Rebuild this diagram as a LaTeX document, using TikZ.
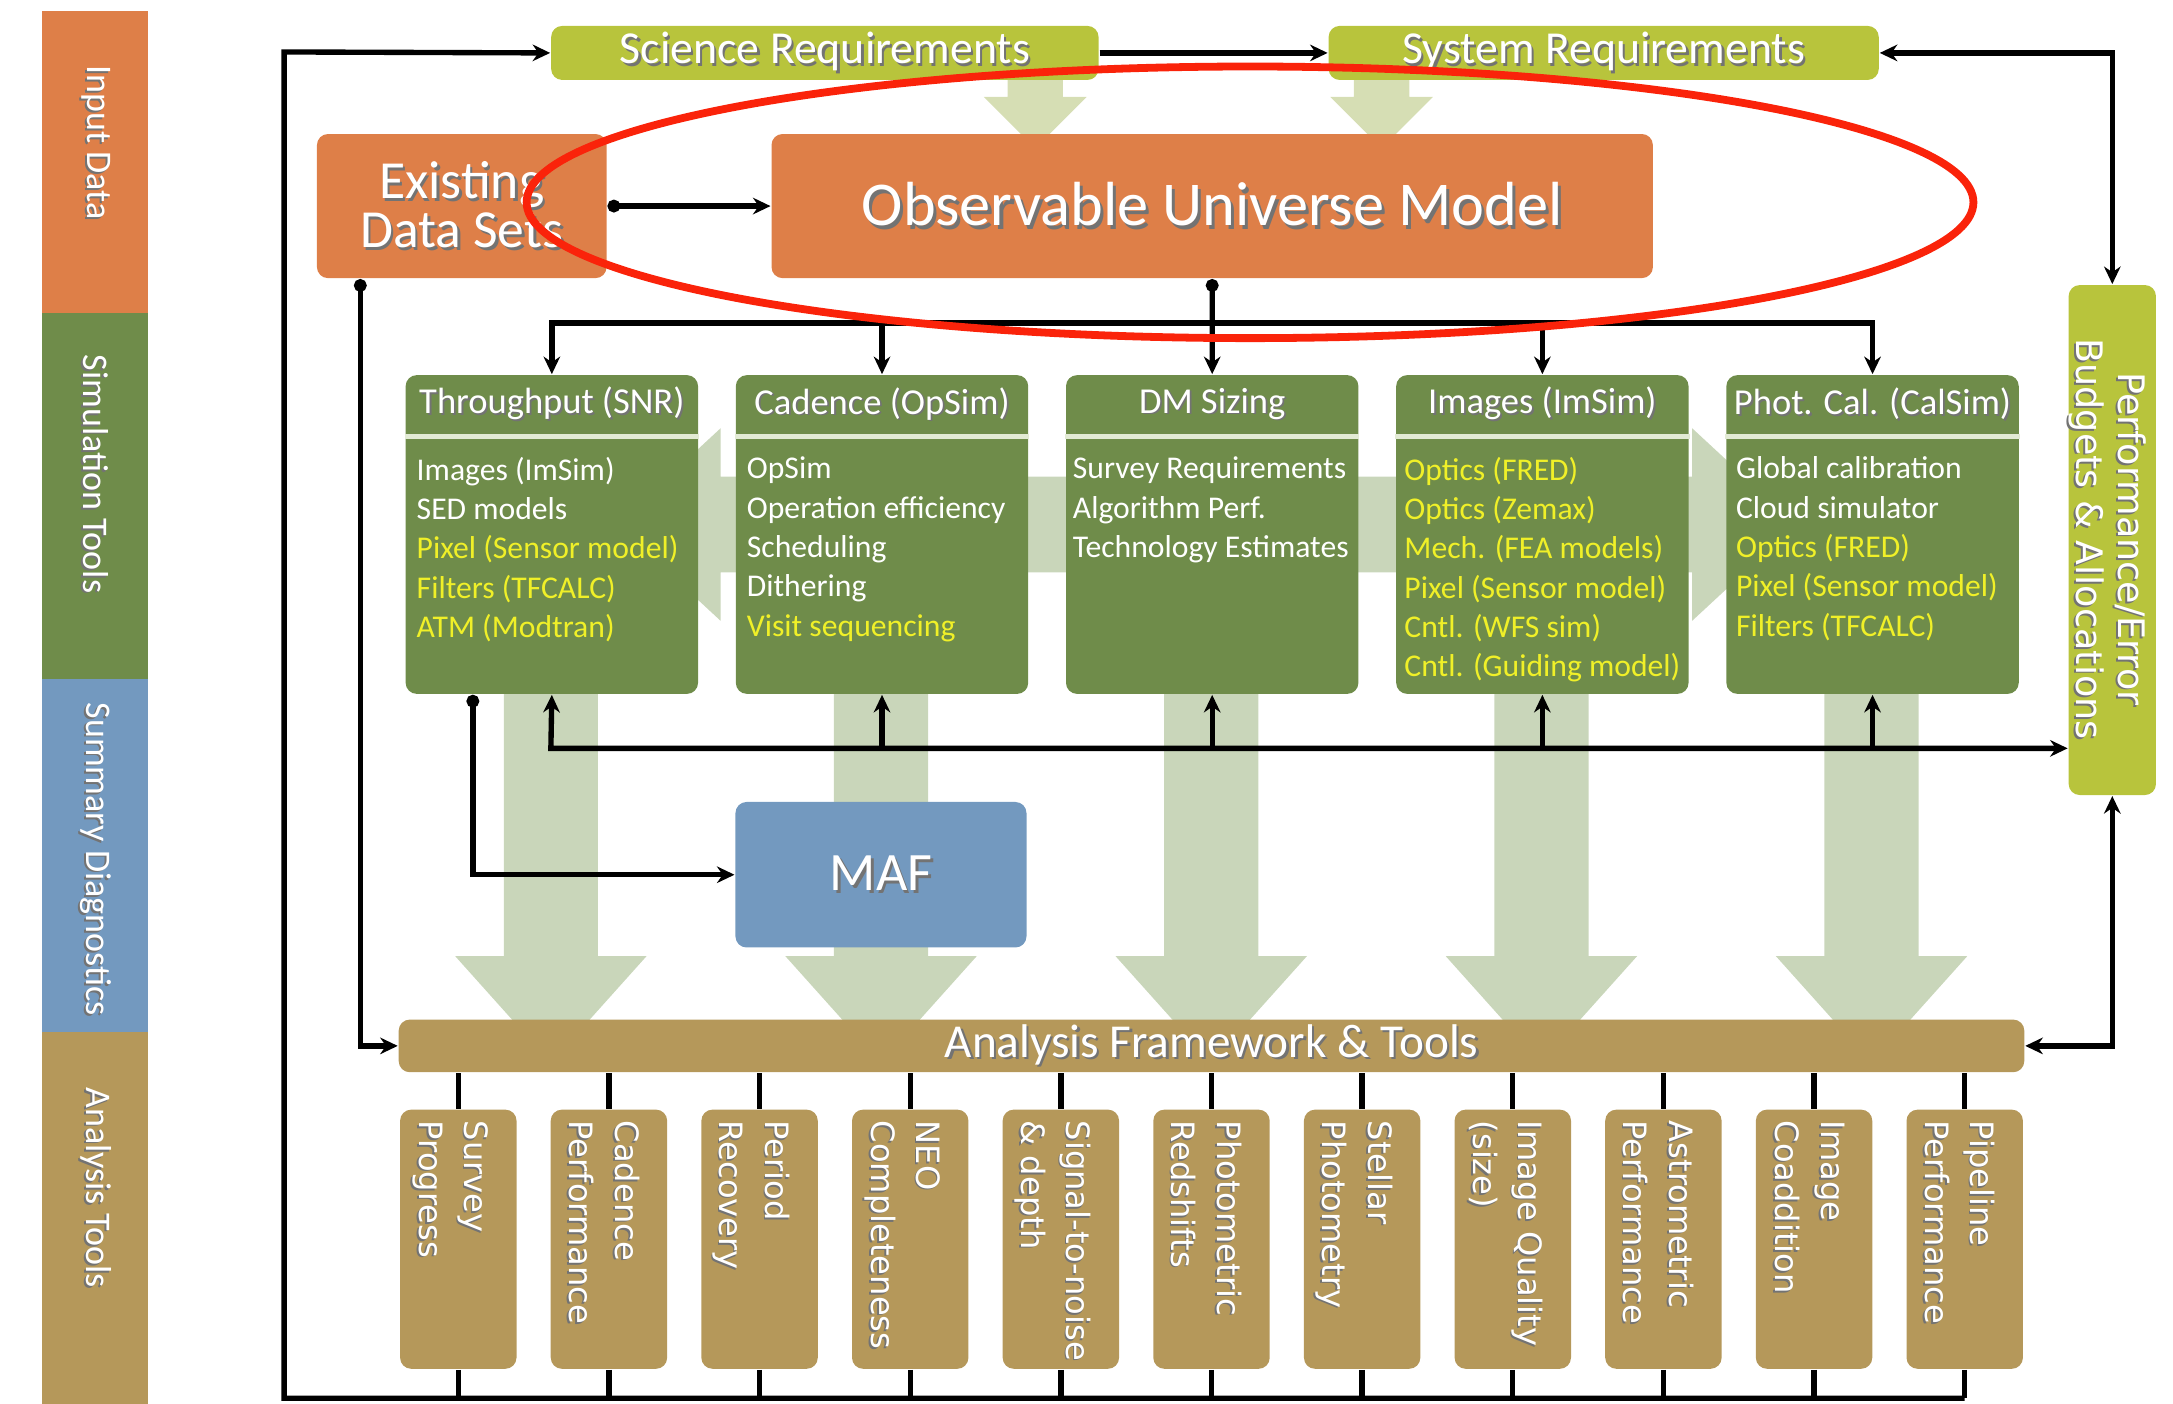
\documentclass[tikz,border=0pt]{standalone}
\usepackage{fontspec}
\setmainfont{Carlito}
\newfontfamily\vfont{DejaVu Sans}
\usetikzlibrary{arrows.meta, calc, positioning}
\definecolor{inputorange}{RGB}{222, 127, 72}
\definecolor{simgreen}{RGB}{111, 140, 74}
\definecolor{diagblue}{RGB}{115, 153, 191}
\definecolor{tooltan}{RGB}{181, 152, 90}
\definecolor{reqgreen}{RGB}{184, 196, 60}
\definecolor{arrowsage}{RGB}{201, 214, 186}
\definecolor{arrowpale}{RGB}{214, 222, 180}
\definecolor{sepgreen}{RGB}{226, 234, 212}
\definecolor{textyellow}{RGB}{240, 240, 40}
\definecolor{markred}{RGB}{250, 35, 10}
\newcommand{\hiyel}[1]{\textcolor{textyellow}{#1}}
\newcommand{\shd}[1]{\rlap{\textcolor{black!55}{\hspace{0.05em}\raisebox{-0.05em}{#1}}}#1}

\begin{document}
\begin{tikzpicture}[x=0.1mm, y=-0.1mm,
  box/.style={anchor=north west, inner sep=0pt, rounded corners=0.8mm, text=white},
  simbox/.style={box, fill=simgreen, minimum width=21.1mm, minimum height=23mm},
  toolbox/.style={box, fill=tooltan, minimum width=8.4mm, minimum height=18.7mm},
  simhead/.style={text=white, inner sep=0pt, font=\fontsize{7.5pt}{9pt}\selectfont},
  simtext/.style={text=white, align=left, anchor=north west, inner sep=0pt, font=\fontsize{6.5pt}{8.08pt}\selectfont},
  tooltext/.style={text=white, align=left, rotate=-90, anchor=north west, inner sep=0pt, font=\vfont\fontsize{6.6pt}{9.4pt}\selectfont},
  legend/.style={rotate=-90, text=white, inner sep=0pt, font=\fontsize{7.4pt}{8pt}\selectfont},
  sepline/.style={draw=sepgreen, line width=0.9pt},
  conn/.style={draw=black, line width=1.1pt},
  arr/.style={-{Stealth[length=3.6pt, width=3.4pt]}},
  darr/.style={{Stealth[length=3.6pt, width=3.4pt]}-{Stealth[length=3.6pt, width=3.4pt]}},
  dotarr/.style={{Circle[length=2.6pt]}-{Stealth[length=3.6pt, width=3.4pt]}}]

  \useasboundingbox (0,0) rectangle (1568,1013);

  % 左侧分类色条
  \fill[inputorange] (30,8) rectangle (107,226);
  \fill[simgreen] (30,226) rectangle (107,490);
  \fill[diagblue] (30,490) rectangle (107,745);
  \fill[tooltan] (30,745) rectangle (107,1013);
  \node[legend] (lgInput) at (68.5,103) {\shd{Input Data}};
  \node[legend] (lgSim) at (68.5,342) {\shd{Simulation Tools}};
  \node[legend] (lgDiag) at (68.5,620) {\shd{Summary Diagnostics}};
  \node[legend] (lgTools) at (68.5,857) {\shd{Analysis Tools}};

  % 背景浅色大箭头
  \foreach \cx in {747,997}
    \fill[arrowpale] (\cx-20,50) -- (\cx+20,50) -- (\cx+20,70) -- (\cx+37,70) -- (\cx,107) -- (\cx-37,70) -- (\cx-20,70) -- cycle;
  \fill[arrowsage] (520,344) -- (1221,344) -- (1221,309) -- (1296,378.5) -- (1221,448) -- (1221,413)
    -- (520,413) -- (520,448) -- (445,378.5) -- (520,309) -- cycle;
  \foreach \cx in {397.5,635.75,874,1112.25,1350.5}
    \fill[arrowsage] (\cx-34,495) -- (\cx+34,495) -- (\cx+34,690) -- (\cx+69,690) -- (\cx,767) -- (\cx-69,690) -- (\cx-34,690) -- cycle;

  % 输入与需求
  \node[box, fill=reqgreen, minimum width=39.5mm, minimum height=3.9mm, font=\fontsize{9.4pt}{10pt}\selectfont] (sciReq) at (397,18) {\shd{Science Requirements}};
  \node[box, fill=reqgreen, minimum width=39.7mm, minimum height=3.9mm, font=\fontsize{9.4pt}{10pt}\selectfont] (sysReq) at (958,18) {\shd{System Requirements}};
  \node[box, fill=inputorange, minimum width=20.9mm, minimum height=10.4mm, align=center, font=\fontsize{11pt}{10pt}\selectfont] (exist) at (228,96) {\shd{Existing}\\\shd{Data Sets}};
  \node[box, fill=inputorange, minimum width=63.6mm, minimum height=10.4mm, font=\fontsize{12.8pt}{14pt}\selectfont] (obs) at (556,96) {\shd{Observable Universe Model}};
  \node[box, fill=reqgreen, minimum width=6.3mm, minimum height=36.8mm] (perf) at (1492,205) {};
  \node[rotate=-90, align=center, text=white, inner sep=0pt, font=\vfont\fontsize{7.5pt}{8.5pt}\selectfont] (perfTxt) at (1520,389) {\shd{Performance/Error}\\\shd{Budgets \& Allocations}};

  % 五个仿真模块
  \foreach \nm/\lx/\ttl in {tp/292/Throughput (SNR), cad/530.25/Cadence (OpSim), dm/768.5/DM Sizing, ims/1006.75/Images (ImSim), pcal/1245/Phot. Cal. (CalSim)} {
    \node[simbox] (\nm) at (\lx,270) {};
    \node[simhead] (\nm-h) at ($(\nm.north)+(0,22)$) {\shd{\ttl}};
    \draw[sepline] ($(\nm.north west)+(0,45)$) -- ($(\nm.north east)+(0,45)$);
  }
  \node[simtext] (tp-t) at ($(tp.north west)+(8,59)$) {Images (ImSim)\\SED models\\\hiyel{Pixel (Sensor model)}\\\hiyel{Filters (TFCALC)}\\\hiyel{ATM (Modtran)}};
  \node[simtext] (cad-t) at ($(cad.north west)+(8,59)$) {OpSim\\Operation efficiency\\Scheduling\\Dithering\\\hiyel{Visit sequencing}};
  \node[simtext] (dm-t) at ($(dm.north west)+(5,59)$) {Survey Requirements\\Algorithm Perf.\\Technology Estimates};
  \node[simtext, text=textyellow] (ims-t) at ($(ims.north west)+(6,59)$) {Optics (FRED)\\Optics (Zemax)\\Mech. (FEA models)\\Pixel (Sensor model)\\Cntl. (WFS sim)\\Cntl. (Guiding model)};
  \node[simtext] (pcal-t) at ($(pcal.north west)+(7,59)$) {Global calibration\\Cloud simulator\\\hiyel{Optics (FRED)}\\\hiyel{Pixel (Sensor model)}\\\hiyel{Filters (TFCALC)}};

  % 汇总诊断与分析框架
  \node[box, fill=diagblue, minimum width=21mm, minimum height=10.5mm, font=\fontsize{11.1pt}{12pt}\selectfont] (maf) at (530,578) {\shd{MAF}};
  \node[box, fill=tooltan, minimum width=117.3mm, minimum height=3.8mm, font=\fontsize{9.7pt}{10pt}\selectfont] (analysis) at (287,735) {\shd{Analysis Framework \& Tools}};

  % 分析工具
  \foreach \i/\ta/\tb in {1/Survey/Progress, 2/Cadence/Performance, 3/Period/Recovery, 4/NEO/Completeness,
      5/Signal-to-noise/\& depth, 6/Photometric/Redshifts, 7/Stellar/Photometry, 8/Image Quality/(size),
      9/Astrometric/Performance, 10/Image/Coaddition, 11/Pipeline/Performance} {
    \node[toolbox] (tool\i) at ({288+108.7*(\i-1)},800) {};
    \node[tooltext] (tool\i-t) at ($(tool\i.north east)+(-20,8)$) {\shd{\ta}\\\shd{\tb}};
  }

  % 连线
  \coordinate (split) at (874,233);
  \coordinate (fbk) at (397.5,540);
  \coordinate (botline) at (0,1009);
  \coordinate (loopTL) at (205,37.5);
  \draw[conn, arr] (sciReq.east) -- (sysReq.west);
  \draw[conn, darr] (sysReq.east) -| (perf.north);
  \draw[conn, dotarr] (exist.east) -- (obs.west);
  \draw[conn, dotarr] ($(exist.south west)+(32,0)$) |- (analysis.west);
  \draw[conn, dotarr] (obs.south) -- (dm.north);
  \foreach \b in {tp,cad,ims,pcal}
    \draw[conn, arr] (split) -| (\b.north);
  \draw[conn, darr] (tp.south) -- (fbk) -- (fbk -| perf.west);
  \foreach \b in {cad,dm,ims,pcal}
    \draw[conn, arr] (\b.south |- fbk) -- (\b.south);
  \draw[conn, dotarr] ($(tp.south)+(-57,0)$) |- (maf.west);
  \draw[conn, darr] (analysis.east) -| (perf.south);
  \foreach \i in {1,...,11} {
    \draw[conn] (tool\i.north) -- (tool\i.north |- analysis.south);
    \draw[conn] (tool\i.south) -- (tool\i.south |- botline);
  }
  \draw[conn, arr] (tool11.south |- botline) -| (loopTL) -- (sciReq.west);

  % 红色手绘圈
  \draw[markred, line width=1.6pt] (902,146) ellipse [x radius=52.2mm, y radius=9.8mm];
\end{tikzpicture}
\end{document}
